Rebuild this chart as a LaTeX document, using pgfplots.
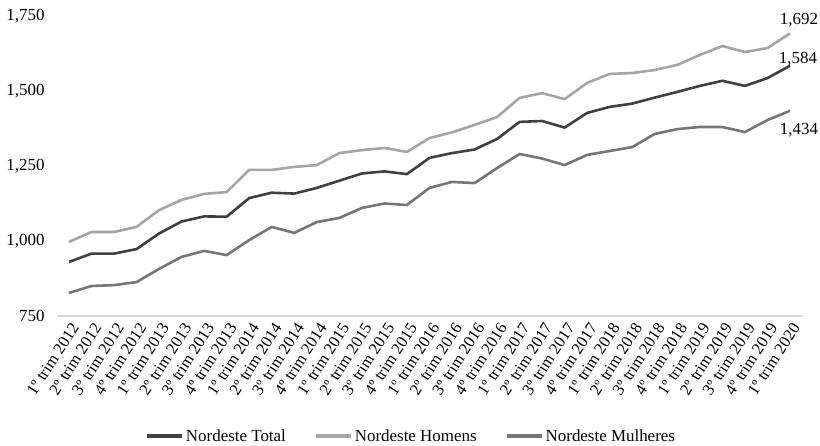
\documentclass[border=0pt]{standalone}
\usepackage{pgfplots}
\pgfplotsset{compat=1.18}
\usetikzlibrary{calc}
\usepackage{fontspec}
\setmainfont{Liberation Serif}
\definecolor{cTot}{HTML}{404040}
\definecolor{cHom}{HTML}{A5A5A5}
\definecolor{cMul}{HTML}{767676}
\definecolor{cAx}{HTML}{D9D9D9}
\begin{document}
\begin{tikzpicture}
\begin{axis}[
  at={(0,0)}, anchor=south west,
  scale only axis, width=746bp, height=300bp,
  xmin=-0.53, xmax=32.58, ymin=750, ymax=1750,
  axis x line*=bottom, axis y line*=left,
  x axis line style={draw=cAx, line width=1.3bp, -},
  y axis line style={draw=none},
  ytick={750,1000,1250,1500,1750},
  xtick={0,...,32},
  major tick length=0pt,
  tick style={draw=none},
  /pgf/number format/assume math mode=true,
  /pgf/number format/1000 sep={,},
  yticklabel style={anchor=east, xshift=-9bp, font=\fontsize{17}{20}\selectfont},
  yticklabel={\pgfmathprintnumber{\tick}},
  xticklabel style={rotate=57, anchor=east, inner sep=2bp, yshift=-10bp, xshift=-2bp, font=\fontsize{16.5}{19}\selectfont},
  xticklabels={1º trim 2012,2º trim 2012,3º trim 2012,4º trim 2012,
    1º trim 2013,2º trim 2013,3º trim 2013,4º trim 2013,
    1º trim 2014,2º trim 2014,3º trim 2014,4º trim 2014,
    1º trim 2015,2º trim 2015,3º trim 2015,4º trim 2015,
    1º trim 2016,2º trim 2016,3º trim 2016,4º trim 2016,
    1º trim 2017,2º trim 2017,3º trim 2017,4º trim 2017,
    1º trim 2018,2º trim 2018,3º trim 2018,4º trim 2018,
    1º trim 2019,2º trim 2019,3º trim 2019,4º trim 2019,
    1º trim 2020},
  legend columns=3,
  legend style={at={(0.4745,-0.4)}, anchor=center, draw=none,
    font=\fontsize{17}{20}\selectfont,
    /tikz/every even column/.append style={column sep=26bp}},
  legend image code/.code={\draw[line width=4bp] (0bp,0bp) -- (35bp,0bp);},
  clip=false,
]
\addplot[cTot, line width=2.6bp] coordinates {
(0,930)(1,958)(2,958)(3,973)(4,1025)(5,1065)(6,1082)(7,1081)(8,1143)(9,1161)
(10,1158)(11,1177)(12,1201)(13,1225)(14,1232)(15,1223)(16,1277)(17,1293)(18,1305)(19,1340)
(20,1397)(21,1400)(22,1378)(23,1427)(24,1447)(25,1458)(26,1478)(27,1497)(28,1517)(29,1534)
(30,1517)(31,1543)(32,1584)};
\addlegendentry{Nordeste Total}
\addplot[cHom, line width=2.6bp] coordinates {
(0,997)(1,1030)(2,1030)(3,1047)(4,1103)(5,1137)(6,1157)(7,1163)(8,1237)(9,1237)
(10,1247)(11,1253)(12,1293)(13,1303)(14,1310)(15,1297)(16,1343)(17,1362)(18,1387)(19,1413)
(20,1477)(21,1493)(22,1473)(23,1527)(24,1557)(25,1560)(26,1570)(27,1587)(28,1620)(29,1650)
(30,1630)(31,1643)(32,1692)};
\addlegendentry{Nordeste Homens}
\addplot[cMul, line width=2.6bp] coordinates {
(0,827)(1,850)(2,853)(3,863)(4,907)(5,947)(6,967)(7,953)(8,1003)(9,1047)
(10,1027)(11,1063)(12,1077)(13,1110)(14,1125)(15,1120)(16,1177)(17,1197)(18,1193)(19,1243)
(20,1290)(21,1275)(22,1253)(23,1287)(24,1300)(25,1313)(26,1357)(27,1373)(28,1380)(29,1380)
(30,1363)(31,1403)(32,1434)};
\addlegendentry{Nordeste Mulheres}
\node[font=\fontsize{17}{20}\selectfont, inner sep=0pt] at ($(axis cs:32,1692)+(9bp,13bp)$) {1,692};
\node[font=\fontsize{17}{20}\selectfont, inner sep=0pt] at ($(axis cs:32,1584)+(8bp,7bp)$) {1,584};
\node[font=\fontsize{17}{20}\selectfont, inner sep=0pt] at ($(axis cs:32,1434)+(9bp,-19bp)$) {1,434};
\end{axis}
\pgfresetboundingbox
\path[use as bounding box] (-57bp,-130bp) rectangle (763bp,316bp);
\end{tikzpicture}
\end{document}
